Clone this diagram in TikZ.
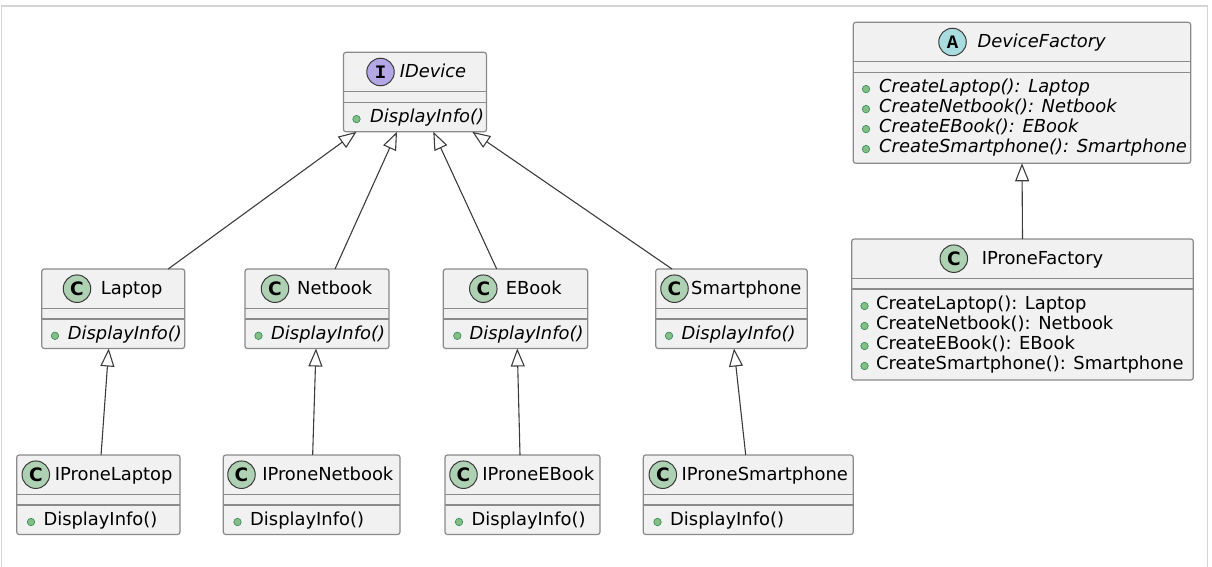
\documentclass[tikz,border=0pt]{standalone}
\usepackage{fontspec}
\setmainfont{DejaVu Sans}
\newfontfamily\spotmono{Liberation Mono}
\newfontfamily\spotsans{DejaVu Sans}
\usetikzlibrary{arrows.meta,calc}
\definecolor{boxfill}{HTML}{F1F1F1}
\definecolor{boxc}{HTML}{8A8A8A}
\definecolor{linec}{HTML}{3C3C3C}
\definecolor{dotfill}{HTML}{84BE84}
\definecolor{dotdraw}{HTML}{2E8B57}
\definecolor{spotc}{HTML}{ADD1B2}
\definecolor{spota}{HTML}{A9DCDF}
\definecolor{spoti}{HTML}{B4A7E5}
\definecolor{spotdraw}{HTML}{3A3A3A}
\definecolor{framec}{HTML}{D4D4D4}
\newcommand\txtfont{\fontsize{17.9}{20}\selectfont}
\newcommand\cfont{\spotsans\bfseries\fontsize{18.5}{18}\selectfont}
\newcommand\mfont{\spotmono\bfseries\fontsize{19}{18}\selectfont}
\tikzset{
  umlbox/.style={draw=boxc, fill=boxfill, line width=1.2pt, rounded corners=2.5pt, inner sep=0pt, outer sep=0pt, anchor=north west},
  sepline/.style={draw=boxc, line width=1.2pt},
  nm/.style={anchor=base, inner sep=0pt, font=\txtfont},
  nmi/.style={anchor=base, inner sep=0pt, font=\txtfont\itshape},
  mt/.style={anchor=base west, inner sep=0pt, font=\txtfont},
  mti/.style={anchor=base west, inner sep=0pt, font=\txtfont\itshape},
  vis/.style={circle, fill=dotfill, draw=dotdraw, line width=0.6pt, minimum size=7.5pt, inner sep=0pt},
  spot/.style={circle, draw=spotdraw, line width=1pt, minimum size=27.5pt, inner sep=0pt},
  gen/.style={draw=linec, line width=1.1pt, -{Triangle[open, length=18pt, width=14pt]}},
}
% name, left, top, right, bottom
\newcommand\umlcls[5]{%
  \node[umlbox, minimum width={(#4-#2)*1pt}, minimum height={(#5-#3)*1pt}] (#1) at (#2,#3) {};
  \draw[sepline] ([yshift=-39.5pt]#1.north west) -- ([yshift=-39.5pt]#1.north east);
  \draw[sepline] ([yshift=-50pt]#1.north west) -- ([yshift=-50pt]#1.north east);
}
\begin{document}
\begin{tikzpicture}[x=1pt,y=-1pt]
\useasboundingbox (0,0) rectangle (1212,567);
\draw[framec, line width=1.5pt] (1.5,570) -- (1.5,6) -- (1207.3,6) -- (1207.3,570);

% ---------- IDevice ----------
\umlcls{IDevice}{343.5}{52.3}{486.5}{131.8}
\node[spot, fill=spoti, font=\mfont] (IDevice-s) at (380.5,72) {I};
\node[nmi] (IDevice-n) at (433,77.8) {IDevice};
\node[vis] (IDevice-d1) at (356.5,119.1) {};
\node[mti] (IDevice-m1) at (370,122.6) {DisplayInfo()};

% ---------- middle row ----------
\umlcls{Laptop}{41.7}{269}{184.7}{348.5}
\node[spot, fill=spotc, font=\cfont] (Laptop-s) at (77,288.7) {C};
\node[nm] (Laptop-n) at (131.7,294.5) {Laptop};
\node[vis] (Laptop-d1) at (55,335.8) {};
\node[mti] (Laptop-m1) at (67.7,339.3) {DisplayInfo()};

\umlcls{Netbook}{245}{269}{389}{348.5}
\node[spot, fill=spotc, font=\cfont] (Netbook-s) at (275,288.7) {C};
\node[nm] (Netbook-n) at (334.7,294.5) {Netbook};
\node[vis] (Netbook-d1) at (258.5,335.8) {};
\node[mti] (Netbook-m1) at (271,339.3) {DisplayInfo()};

\umlcls{EBook}{443.3}{269}{587.7}{348.5}
\node[spot, fill=spotc, font=\cfont] (EBook-s) at (483.3,288.7) {C};
\node[nm] (EBook-n) at (533.8,294.5) {EBook};
\node[vis] (EBook-d1) at (457.3,335.8) {};
\node[mti] (EBook-m1) at (469.5,339.3) {DisplayInfo()};

\umlcls{Smartphone}{655.7}{269}{807.3}{348.5}
\node[spot, fill=spotc, font=\cfont] (Smartphone-s) at (674.5,288.7) {C};
\node[nm] (Smartphone-n) at (746.3,294.5) {Smartphone};
\node[vis] (Smartphone-d1) at (669,335.8) {};
\node[mti] (Smartphone-m1) at (681.5,339.3) {DisplayInfo()};

% ---------- bottom row ----------
\umlcls{IProneLaptop}{16.7}{455}{180}{534.5}
\node[spot, fill=spotc, font=\cfont] (IProneLaptop-s) at (35.8,474.7) {C};
\node[nm] (IProneLaptop-n) at (113.7,480.5) {IProneLaptop};
\node[vis] (IProneLaptop-d1) at (31,522) {};
\node[mt] (IProneLaptop-m1) at (43.3,525.5) {DisplayInfo()};

\umlcls{IProneNetbook}{223.3}{455}{400}{534.5}
\node[spot, fill=spotc, font=\cfont] (IProneNetbook-s) at (241.5,474.7) {C};
\node[nm] (IProneNetbook-n) at (327.8,480.5) {IProneNetbook};
\node[vis] (IProneNetbook-d1) at (237.5,522) {};
\node[mt] (IProneNetbook-m1) at (250,525.5) {DisplayInfo()};

\umlcls{IProneEBook}{445}{455}{600}{534.5}
\node[spot, fill=spotc, font=\cfont] (IProneEBook-s) at (463.5,474.7) {C};
\node[nm] (IProneEBook-n) at (538.3,480.5) {IProneEBook};
\node[vis] (IProneEBook-d1) at (459,522) {};
\node[mt] (IProneEBook-m1) at (471.5,525.5) {DisplayInfo()};

\umlcls{IProneSmartphone}{643.3}{455}{853.3}{534.5}
\node[spot, fill=spotc, font=\cfont] (IProneSmartphone-s) at (662.8,474.7) {C};
\node[nm] (IProneSmartphone-n) at (764.8,480.5) {IProneSmartphone};
\node[vis] (IProneSmartphone-d1) at (657.5,522) {};
\node[mt] (IProneSmartphone-m1) at (670,525.5) {DisplayInfo()};

% ---------- factories ----------
\umlcls{DeviceFactory}{853.3}{22.3}{1190.7}{163.3}
\node[spot, fill=spota, font=\mfont] (DeviceFactory-s) at (952.5,42) {A};
\node[nmi] (DeviceFactory-n) at (1041.7,47.8) {DeviceFactory};
\node[vis] (DeviceFactory-d1) at (866,89.1) {};
\node[mti] (DeviceFactory-m1) at (879,92.6) {CreateLaptop(): Laptop};
\node[vis] (DeviceFactory-d2) at (866,109.1) {};
\node[mti] (DeviceFactory-m2) at (879,112.6) {CreateNetbook(): Netbook};
\node[vis] (DeviceFactory-d3) at (866,129.1) {};
\node[mti] (DeviceFactory-m3) at (879,132.6) {CreateEBook(): EBook};
\node[vis] (DeviceFactory-d4) at (866,149.1) {};
\node[mti] (DeviceFactory-m4) at (879,152.6) {CreateSmartphone(): Smartphone};

\umlcls{IProneFactory}{851.7}{239}{1193.3}{380}
\node[spot, fill=spotc, font=\cfont] (IProneFactory-s) at (953.8,258.7) {C};
\node[nm] (IProneFactory-n) at (1042.5,264.5) {IProneFactory};
\node[vis] (IProneFactory-d1) at (864.5,306) {};
\node[mt] (IProneFactory-m1) at (876,309.5) {CreateLaptop(): Laptop};
\node[vis] (IProneFactory-d2) at (864.5,326) {};
\node[mt] (IProneFactory-m2) at (876,329.5) {CreateNetbook(): Netbook};
\node[vis] (IProneFactory-d3) at (864.5,346) {};
\node[mt] (IProneFactory-m3) at (876,349.5) {CreateEBook(): EBook};
\node[vis] (IProneFactory-d4) at (864.5,366) {};
\node[mt] (IProneFactory-m4) at (876,369.5) {CreateSmartphone(): Smartphone};

% ---------- generalizations ----------
\draw[gen] ([xshift=55pt]Laptop.north) -- ([xshift=-58.5pt]IDevice.south);
\draw[gen] ([xshift=18pt]Netbook.north) -- ([xshift=-18pt]IDevice.south);
\draw[gen] ([xshift=-18.8pt]EBook.north) -- ([xshift=18.3pt]IDevice.south);
\draw[gen] ([xshift=-59.5pt]Smartphone.north) -- ([xshift=57.3pt]IDevice.south);

\draw[gen] ([xshift=2.7pt]IProneLaptop.north) -- ([xshift=-4.5pt]Laptop.south);
\draw[gen] ([xshift=1pt]IProneNetbook.north) -- ([xshift=-1pt]Netbook.south);
\draw[gen] ([xshift=-2.5pt]IProneEBook.north) -- ([xshift=1.8pt]EBook.south);
\draw[gen] ([xshift=-2.6pt]IProneSmartphone.north) -- ([xshift=2.5pt]Smartphone.south);

\draw[gen] (IProneFactory.north) -- (DeviceFactory.south);
\end{tikzpicture}
\end{document}
